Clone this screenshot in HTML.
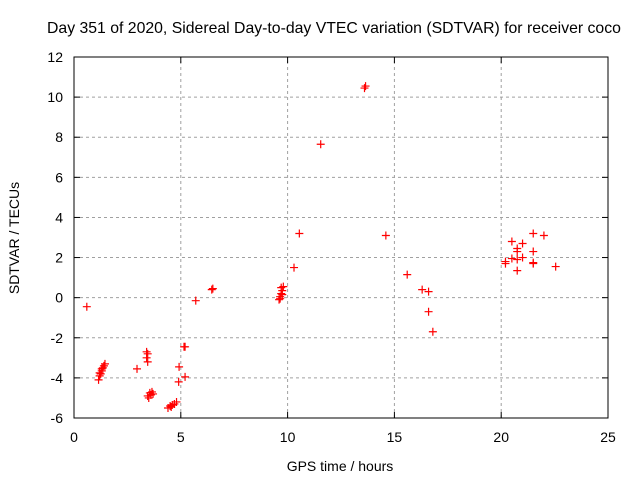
<!DOCTYPE html>
<html><head><meta charset="utf-8"><style>body{margin:0;background:#fff}svg{display:block;font-family:"Liberation Sans",sans-serif}</style></head>
<body>
<svg id="c" width="640" height="480"></svg>
<script>
const xTicks=[0,5,10,15,20,25];
const yTicks=[-6,-4,-2,0,2,4,6,8,10,12];
const hours=[0.6,1.15,1.2,1.25,1.3,1.35,1.4,1.45,1.3,1.2,2.95,3.4,3.45,3.4,3.45,3.45,3.55,3.6,3.7,3.5,3.65,4.4,4.5,4.6,4.7,4.8,4.55,4.9,4.92,5.2,5.2,5.15,5.7,6.5,6.45,9.6,9.65,9.7,9.75,9.8,9.7,9.65,9.75,10.3,10.55,11.55,13.6,13.65,14.6,15.6,16.3,16.6,16.6,16.8,20.5,21.5,22.0,21.0,20.75,20.75,21.5,20.2,20.2,20.5,20.75,21.0,21.5,21.5,22.55,20.75];
const sdtvar=[-0.45,-4.1,-3.9,-3.8,-3.65,-3.5,-3.4,-3.3,-3.55,-3.75,-3.55,-2.7,-2.8,-3.0,-3.2,-4.9,-4.75,-4.85,-4.8,-5.0,-4.7,-5.5,-5.4,-5.35,-5.3,-5.2,-5.45,-4.2,-3.45,-3.95,-2.45,-2.45,-0.15,0.45,0.4,-0.1,0.05,0.2,0.35,0.55,0.5,-0.05,0.15,1.5,3.2,7.65,10.45,10.55,3.1,1.15,0.4,0.3,-0.7,-1.7,2.8,3.2,3.1,2.7,2.45,2.3,2.3,1.8,1.7,1.95,1.9,2.0,1.75,1.7,1.55,1.35];
const X0=74,X1=608,Y0=418,Y1=57;
const sx=v=>X0+(v-0)/25*(X1-X0);
const sy=v=>Y0-(v+6)/18*(Y0-Y1);
const svg=document.getElementById('c');const NS='http://www.w3.org/2000/svg';
function mk(t,a,txt){const e=document.createElementNS(NS,t);for(const k in a)e.setAttribute(k,a[k]);if(txt!==undefined)e.textContent=txt;svg.appendChild(e);return e;}
xTicks.forEach(t=>{const x=sx(t);
if(t>0&&t<25){const g=mk('line',{x1:x,y1:Y0,x2:x,y2:Y1,stroke:'#a0a0a0','stroke-dasharray':'3,3'});}
mk('line',{x1:x,y1:Y0,x2:x,y2:Y0-6,stroke:'#000'});mk('line',{x1:x,y1:Y1,x2:x,y2:Y1+6,stroke:'#000'});
const l=mk('text',{x:x,y:442,'text-anchor':'middle','font-size':14},t);});
yTicks.forEach(t=>{const y=sy(t);
if(t>-6&&t<12){const g=mk('line',{x1:X0,y1:y,x2:X1,y2:y,stroke:'#a0a0a0','stroke-dasharray':'3,3'});}
mk('line',{x1:X0,y1:y,x2:X0+6,y2:y,stroke:'#000'});mk('line',{x1:X1,y1:y,x2:X1-6,y2:y,stroke:'#000'});
const l=mk('text',{x:X0-11,y:y+5,'text-anchor':'end','font-size':14},t);});
const fr=mk('rect',{x:X0,y:Y1,width:X1-X0,height:Y0-Y1,fill:'none',stroke:'#000'});
hours.forEach((h,i)=>{const x=sx(h),y=sy(sdtvar[i]);
const p=mk('path',{d:`M${x-4},${y}H${x+4}M${x},${y-4}V${y+4}`,stroke:'#ff0000','stroke-width':1.2,fill:'none'});

});
const tt=mk('text',{x:47,y:33,'text-anchor':'start','font-size':15.8},'Day 351 of 2020, Sidereal Day-to-day VTEC variation (SDTVAR) for receiver coco');
const xl=mk('text',{x:340,y:471,'text-anchor':'middle','font-size':14},'GPS time / hours');
const yl=mk('text',{x:0,y:0,'text-anchor':'middle','font-size':14,transform:'translate(19,238) rotate(-90)'},'SDTVAR / TECUs');
</script>
</body></html>
